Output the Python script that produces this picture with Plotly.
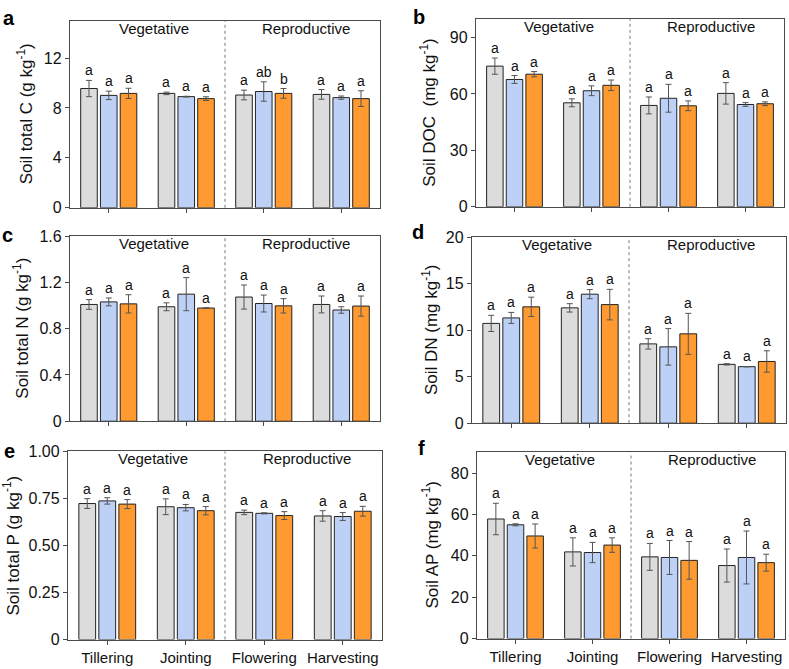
import plotly.graph_objects as go

W, H = 789, 669

stages = ["Tillering", "Jointing", "Flowering", "Harvesting"]
phase_labels = ["Vegetative", "Reproductive"]
panel_letters = ["a", "b", "c", "d", "e", "f"]

# Each list: [control(gray), blue, orange] x 4 stages
a_means = [[9.56, 9.17, 9.04, 9.09], [9.01, 8.91, 9.32, 8.83], [9.17, 8.75, 9.17, 8.75]]
a_errs = [[0.65, 0.10, 0.39, 0.39], [0.34, 0.03, 0.78, 0.13], [0.41, 0.15, 0.39, 0.63]]
a_lets = [["a", "a", "a", "a"], ["a", "a", "ab", "a"], ["a", "a", "b", "a"]]

b_means = [[74.8, 55.3, 53.9, 60.3], [67.7, 61.7, 57.7, 54.4], [70.5, 64.6, 53.7, 54.8]]
b_errs = [[4.3, 2.1, 4.5, 5.7], [2.1, 2.6, 7.4, 1.0], [1.4, 2.8, 2.6, 1.0]]
b_lets = [["a"] * 4, ["a"] * 4, ["a"] * 4]

c_means = [[1.009, 0.989, 1.073, 1.009], [1.031, 1.098, 1.017, 0.961], [1.014, 0.978, 0.997, 0.995]]
c_errs = [[0.042, 0.034, 0.104, 0.073], [0.034, 0.143, 0.073, 0.028], [0.079, 0.003, 0.062, 0.087]]
c_lets = [["a"] * 4, ["a"] * 4, ["a"] * 4]

d_means = [[10.72, 12.39, 8.52, 6.32], [11.31, 13.86, 8.20, 6.07], [12.50, 12.74, 9.60, 6.63]]
d_errs = [[0.87, 0.45, 0.56, 0.07], [0.59, 0.49, 1.96, 0.02], [1.04, 1.64, 2.20, 1.15]]
d_lets = [["a"] * 4, ["a"] * 4, ["a"] * 4]

e_means = [[0.723, 0.706, 0.676, 0.657], [0.737, 0.701, 0.671, 0.654], [0.720, 0.685, 0.659, 0.682]]
e_errs = [[0.026, 0.042, 0.012, 0.028], [0.017, 0.017, 0.003, 0.021], [0.024, 0.022, 0.021, 0.026]]
e_lets = [["a"] * 4, ["a"] * 4, ["a"] * 4]

f_means = [[57.8, 41.9, 39.5, 35.3], [55.0, 41.6, 39.2, 39.2], [49.6, 45.2, 37.8, 36.7]]
f_errs = [[7.6, 6.8, 6.5, 8.0], [0.5, 4.9, 8.2, 12.8], [5.8, 3.5, 9.1, 4.1]]
f_lets = [["a"] * 4, ["a"] * 4, ["a"] * 4]

y_titles = [
    "Soil total C (g kg<sup>-1</sup>)",
    "Soil DOC  (mg kg<sup>-1</sup>)",
    "Soil total N (g kg<sup>-1</sup>)",
    "Soil DN (mg kg<sup>-1</sup>)",
    "Soil total P (g kg<sup>-1</sup>)",
    "Soil AP (mg kg<sup>-1</sup>)",
]
y_ranges = [[0, 15], [0, 100], [0, 1.6], [0, 20], [0, 1.0], [0, 90]]
y_tickvals = [[0, 4, 8, 12], [0, 30, 60, 90], [0, 0.4, 0.8, 1.2, 1.6],
              [0, 5, 10, 15, 20], [0, 0.25, 0.5, 0.75, 1.0], [0, 20, 40, 60, 80]]
y_ticktext = [["0", "4", "8", "12"], ["0", "30", "60", "90"], ["0", "0.4", "0.8", "1.2", "1.6"],
              ["0", "5", "10", "15", "20"], ["0", "0.25", "0.50", "0.75", "1.00"], ["0", "20", "40", "60", "80"]]

colors = ["#dcdcdc", "#bdd0f5", "#ff9a30"]
names = ["Treatment 1", "Treatment 2", "Treatment 3"]

# pixel boxes: (left, right, top, bottom)
boxes = [(70, 380, 13, 205), (476, 784, 11, 204),
         (70, 380, 234, 424), (472, 786, 235, 426),
         (68, 382, 455, 648), (477, 785, 456, 647)]
title_x = [25, 428, 21, 430, 12, 431]
letter_pos = [(9, 10), (419, 9), (8, 233), (418, 230), (9, 455), (421, 451)]

all_means = [a_means, b_means, c_means, d_means, e_means, f_means]
all_errs = [a_errs, b_errs, c_errs, d_errs, e_errs, f_errs]
all_lets = [a_lets, b_lets, c_lets, d_lets, e_lets, f_lets]

bargap = 0.235
bargroupgap = 0.16
slot = (1 - bargap) / 3

fig = go.Figure()
annotations = []
shapes = []
xs = list(range(len(stages)))
frame = "#4a4a4a"

for p in range(6):
    sfx = "" if p == 0 else str(p + 1)
    xa, ya = "x" + sfx, "y" + sfx
    for t in range(3):
        fig.add_trace(go.Bar(
            x=xs, y=all_means[p][t], name=names[t], showlegend=False,
            marker=dict(color=colors[t], line=dict(color="#222222", width=1)),
            error_y=dict(type="data", array=all_errs[p][t], color="#555555", thickness=1, width=3),
            xaxis=xa, yaxis=ya,
        ))
        for i in xs:
            annotations.append(dict(
                x=i + (t - 1) * slot, y=all_means[p][t][i] + all_errs[p][t][i],
                xref=xa, yref=ya, text=all_lets[p][t][i], showarrow=False,
                yanchor="bottom", yshift=0, font=dict(size=14, color="#111111"),
            ))
    l, r, tp, bt = boxes[p]
    xdom = [l / W, r / W]
    ydom = [1 - bt / H, 1 - tp / H]
    bottom_row = p >= 4
    fig.layout["xaxis" + sfx] = dict(
        domain=xdom, anchor=ya, range=[-0.5, 3.5], tickmode="array", tickvals=xs,
        ticktext=stages, showticklabels=bottom_row,
        ticks="outside", ticklen=4, tickcolor=frame, showline=True, linecolor=frame,
        linewidth=1.3, mirror=True, showgrid=False, zeroline=False,
        tickfont=dict(size=15, color="#111111"),
    )
    fig.layout["yaxis" + sfx] = dict(
        domain=ydom, anchor=xa, range=y_ranges[p], tickmode="array",
        tickvals=y_tickvals[p], ticktext=y_ticktext[p],
        ticks="outside", ticklen=4, tickcolor=frame, showline=True, linecolor=frame,
        linewidth=1.3, mirror=True, showgrid=False, zeroline=False,
        tickfont=dict(size=16, color="#111111"),
    )
    # divider between vegetative and reproductive
    shapes.append(dict(type="line", xref=xa, yref=ya + " domain", x0=1.5, x1=1.5, y0=0, y1=1,
                       line=dict(color="#777777", width=1, dash="dot")))
    for k, xp in enumerate([0.58, 2.55]):
        annotations.append(dict(x=xp, y=1, xref=xa, yref=ya + " domain", text=phase_labels[k],
                                showarrow=False, yanchor="top", yshift=3,
                                font=dict(size=15, color="#111111")))
    annotations.append(dict(x=title_x[p] / W, y=1 - (tp + bt) / 2 / H, xref="paper", yref="paper",
                            text=y_titles[p], textangle=-90, showarrow=False,
                            xanchor="center", yanchor="middle",
                            font=dict(size=17, color="#111111")))
    lx, ly = letter_pos[p]
    annotations.append(dict(x=lx / W, y=1 - ly / H, xref="paper", yref="paper",
                            text="<b>" + panel_letters[p] + "</b>", showarrow=False,
                            xanchor="center", yanchor="middle",
                            font=dict(size=20, color="#000000")))

fig.update_layout(
    width=W, height=H, margin=dict(l=0, r=0, t=0, b=0),
    barmode="group", bargap=bargap, bargroupgap=bargroupgap,
    plot_bgcolor="white", paper_bgcolor="white",
    font=dict(family="Arial, Liberation Sans, sans-serif", color="#111111"),
    annotations=annotations, shapes=shapes,
)

fig.write_html("out.html")
